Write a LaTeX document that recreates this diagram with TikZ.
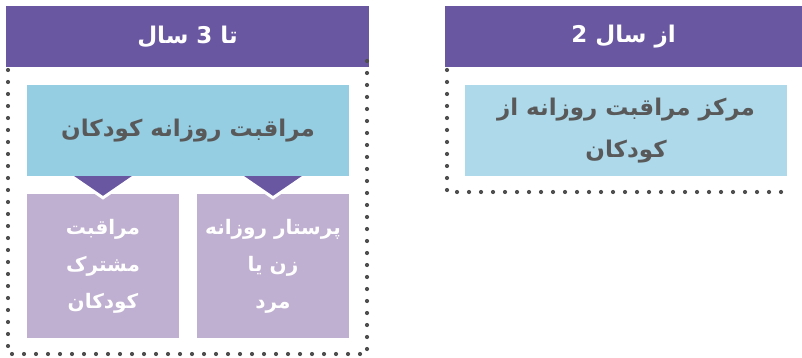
\documentclass[tikz,border=0pt]{standalone}
\usepackage{fontspec}
\usetikzlibrary{calc}
\newfontfamily\arabicfont[Script=Arabic]{DejaVu Sans}
\TeXXeTstate=1
\newcommand{\fa}[1]{{\arabicfont\bfseries\beginR #1\endR}}
\definecolor{hdr}{HTML}{6957A1}
\definecolor{blueA}{HTML}{95CDE3}
\definecolor{blueB}{HTML}{ADD9EA}
\definecolor{lilac}{HTML}{BFAFD0}
\definecolor{txtgray}{HTML}{595959}
\definecolor{dotgray}{HTML}{4F4F4F}
\tikzset{
  hdrbox/.style={fill=hdr, text=white, inner sep=0pt, font=\fontsize{23}{27}\selectfont},
  bluebox/.style={inner sep=0pt, text=txtgray, align=center},
  lilacbox/.style={fill=lilac, text=white, inner sep=0pt, align=center, font=\fontsize{20}{37}\selectfont},
  dotline/.style={draw=dotgray, line width=4.2pt, line cap=round, dash pattern=on 0pt off 12pt},
  tri/.style={fill=hdr, draw=white, line width=3pt, line join=miter}
}
\begin{document}
\begin{tikzpicture}[x=1pt,y=-1pt]
\useasboundingbox (0,0) rectangle (802,358);
% headers
\node[hdrbox, minimum width=363pt, minimum height=61pt] (h1) at (187.5,36.5) {\fa{تا 3 سال}};
\node[hdrbox, minimum width=357pt, minimum height=61pt] (h2) at (623.5,36.5) {\fa{از سال 2}};
% dotted frames
\coordinate (l1) at (8,70);
\coordinate (l2) at (8,354);
\coordinate (l3) at (367,354);
\coordinate (l4) at (367,58);
\draw[dotline] (l1) -- (l2) -- (l3) -- (l4);
\coordinate (r1) at (447,70);
\coordinate (r2) at (447,192);
\coordinate (r3) at (790,192);
\draw[dotline] (r1) -- (r2) -- (r3);
% lilac boxes
\node[lilacbox, minimum width=152pt, minimum height=144pt] (c1) at (103,266) {\fa{مراقبت}\\\fa{مشترک}\\\fa{کودکان}};
\node[lilacbox, minimum width=152pt, minimum height=144pt] (c2) at (273,266) {\fa{پرستار روزانه}\\\fa{زن یا}\\\fa{مرد}};
% triangles
\draw[tri] ($(c1.north)+(-35,-20)$) -- ($(c1.north)+(35,-20)$) -- ($(c1.north)+(0,4)$) -- cycle;
\draw[tri] ($(c2.north)+(-35,-20)$) -- ($(c2.north)+(35,-20)$) -- ($(c2.north)+(0,4)$) -- cycle;
% blue boxes
\node[bluebox, fill=blueA, minimum width=322pt, minimum height=91pt, font=\fontsize{23}{27}\selectfont] (b1) at (188,130.5) {\fa{مراقبت روزانه کودکان}};
\node[bluebox, fill=blueB, minimum width=322pt, minimum height=91pt, font=\fontsize{23}{42}\selectfont] (b2) at (626,130.5) {\fa{مرکز مراقبت روزانه از}\\\fa{کودکان}};
\end{tikzpicture}
\end{document}
